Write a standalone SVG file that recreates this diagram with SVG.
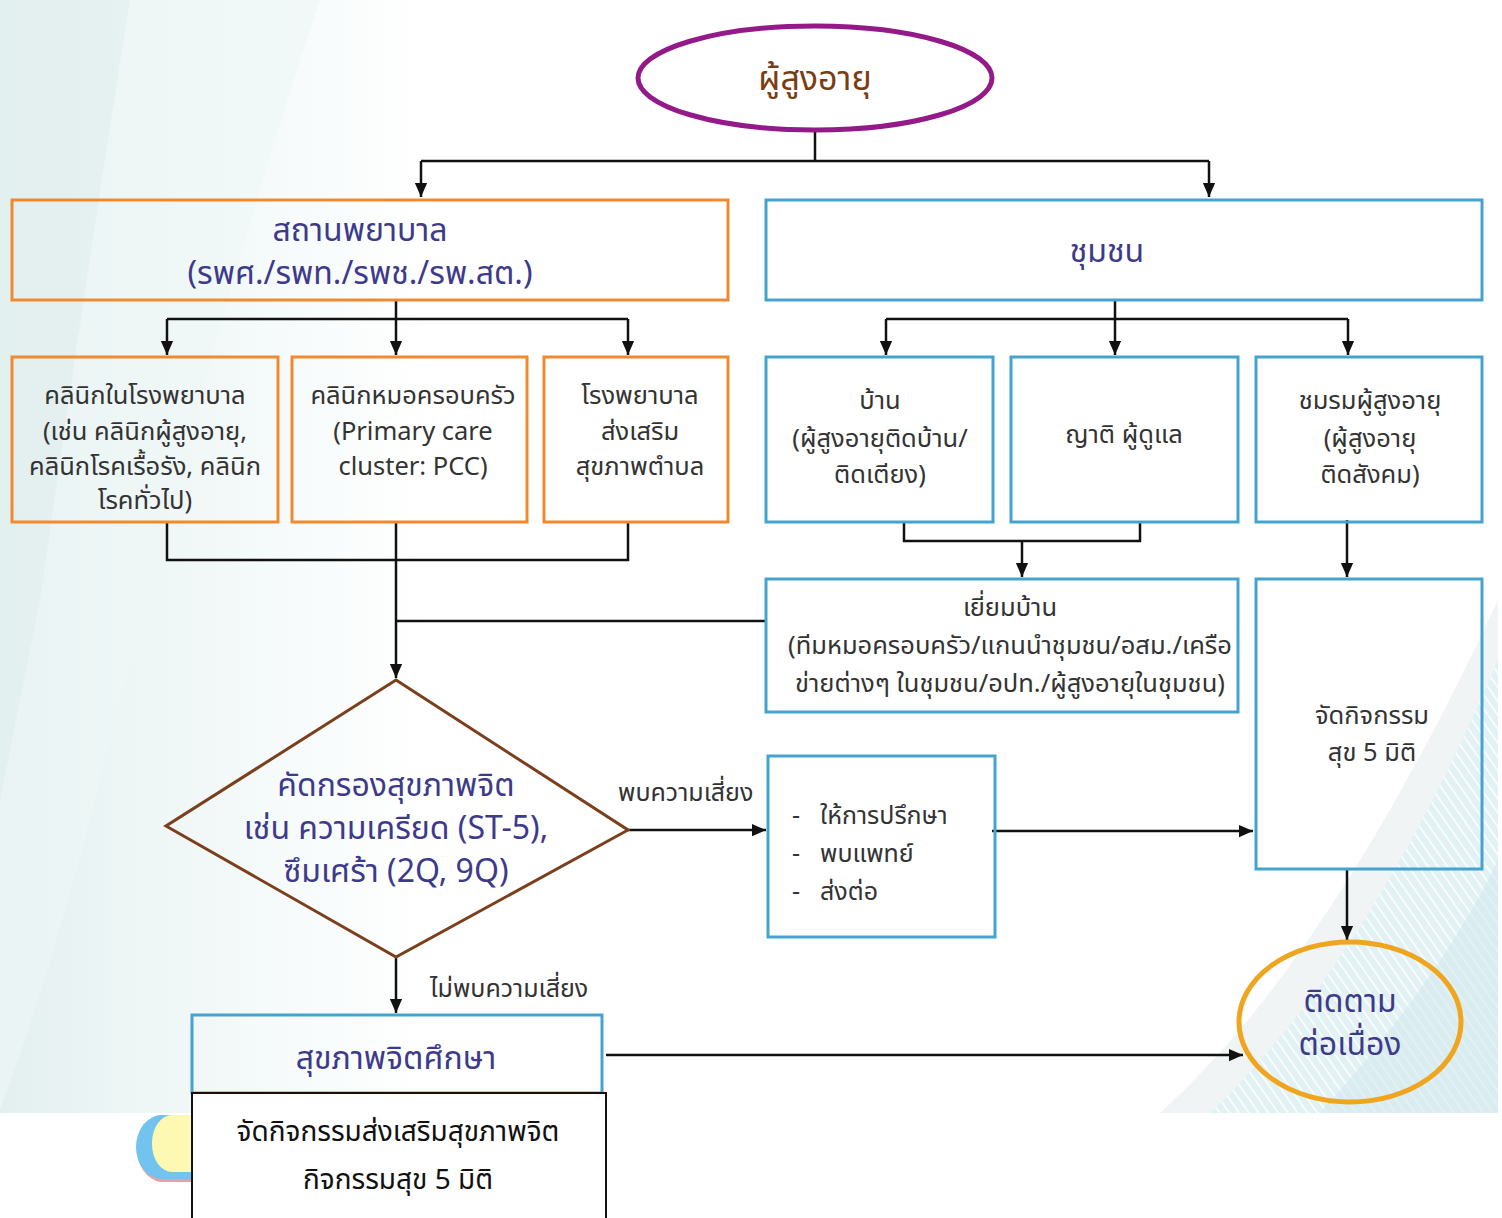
<svg xmlns="http://www.w3.org/2000/svg" width="1502" height="1218" viewBox="0 0 1502 1218">
<style>
.th{font-family:"Noto Sans Thai","Noto Sans","Liberation Sans",sans-serif;}
.t-main{fill:#3d3a8c;font-size:32px;text-anchor:middle;}
.t-grey{fill:#333333;font-size:25.5px;text-anchor:middle;}
.t-lbl{fill:#333333;font-size:25px;}
.box-o{fill:none;stroke:#f08a30;stroke-width:3;}
.box-b{fill:none;stroke:#45a3d0;stroke-width:3;}
.conn{fill:none;stroke:#111111;stroke-width:2.5;}
</style>
<defs>
<marker id="ah" markerUnits="userSpaceOnUse" markerWidth="14" markerHeight="18" refX="16" refY="7" viewBox="0 0 16 14" orient="auto">
<path d="M0,0 L16,7 L0,14 Z" fill="#111111"/>
</marker>
<linearGradient id="bgL" x1="0" y1="0" x2="1" y2="0">
<stop offset="0" stop-color="#e3efef"/>
<stop offset="0.08" stop-color="#edf5f5"/>
<stop offset="0.2" stop-color="#f7fbfb"/>
<stop offset="0.28" stop-color="#ffffff"/>
</linearGradient>
<pattern id="stripes" width="8" height="8" patternUnits="userSpaceOnUse" patternTransform="rotate(-35)">
<rect width="8" height="8" fill="#e2f1f3"/>
<line x1="0" y1="0" x2="0" y2="8" stroke="#ffffff" stroke-width="3"/>
</pattern>
</defs>
<g id="background">
<rect x="0" y="0" width="1498" height="1113" fill="url(#bgL)"/>
<path d="M0,0 L320,0 Q220,300 120,700 Q60,950 0,1110 Z" fill="#eef6f6" opacity="0.6"/>
<path d="M0,0 L130,0 Q90,250 40,600 L0,800 Z" fill="#dcecec" opacity="0.45"/>
<path d="M1160,1113 Q1330,960 1498,600 L1498,1113 Z" fill="#f1f4f4"/>
<path d="M1210,1113 Q1370,960 1498,660 L1498,1113 Z" fill="url(#stripes)"/>
<path d="M1320,1113 Q1440,980 1498,860 L1498,1113 Z" fill="#d4eaee" opacity="0.6"/>
</g>
<g id="deco">
<path d="M192,1115 L160,1115 A 28 34 0 0 0 160,1182 L192,1182 Z" fill="#e3a3a3"/>
<path d="M192,1115 L162,1115 A 26 32 0 0 0 162,1179 L192,1179 Z" fill="#72c4ee"/>
<path d="M192,1115 L172,1115 A 19 27 0 0 0 172,1172 L192,1172 Z" fill="#fdf8b2"/>
</g>
<g id="connectors">
<path class="conn" d="M815,130 L815,161 M421,161 L1209,161"/>
<path class="conn" marker-end="url(#ah)" d="M421,161 L421,197"/>
<path class="conn" marker-end="url(#ah)" d="M1209,161 L1209,197"/>
<path class="conn" d="M396,300 L396,319 M167,319 L628,319"/>
<path class="conn" marker-end="url(#ah)" d="M167,319 L167,355"/>
<path class="conn" marker-end="url(#ah)" d="M396,319 L396,355"/>
<path class="conn" marker-end="url(#ah)" d="M628,319 L628,355"/>
<path class="conn" d="M1115,300 L1115,319 M886,319 L1348,319"/>
<path class="conn" marker-end="url(#ah)" d="M886,319 L886,355"/>
<path class="conn" marker-end="url(#ah)" d="M1115,319 L1115,355"/>
<path class="conn" marker-end="url(#ah)" d="M1348,319 L1348,355"/>
<path class="conn" d="M904,522 L904,541 L1140,541 L1140,522"/>
<path class="conn" marker-end="url(#ah)" d="M1022,541 L1022,577"/>
<path class="conn" marker-end="url(#ah)" d="M1347,520 L1347,577"/>
<path class="conn" d="M167,522 L167,560 L628,560 L628,522"/>
<path class="conn" marker-end="url(#ah)" d="M396,522 L396,678"/>
<path class="conn" d="M396,621 L766,621"/>
<path class="conn" marker-end="url(#ah)" d="M628,830 L766,830"/>
<path class="conn" marker-end="url(#ah)" d="M992,831 L1253,831"/>
<path class="conn" marker-end="url(#ah)" d="M1347,869 L1347,940"/>
<path class="conn" marker-end="url(#ah)" d="M396,957 L396,1013"/>
<path class="conn" marker-end="url(#ah)" d="M606,1055 L1243,1055"/>
</g>
<g id="n-elderly">
<ellipse cx="815" cy="78" rx="177" ry="52" fill="none" stroke="#931a88" stroke-width="5"/>
<text class="th" x="815" y="90" font-size="34" fill="#7a3d12" text-anchor="middle">ผู้สูงอายุ</text>
</g>
<g id="n-hospital">
<rect class="box-o" x="12" y="200" width="716" height="100"/>
<text class="th t-main" x="360" y="241">สถานพยาบาล</text>
<text class="th t-main" x="360" y="284">(รพศ./รพท./รพช./รพ.สต.)</text>
</g>
<g id="n-community">
<rect class="box-b" x="766" y="200" width="716" height="100"/>
<text class="th t-main" x="1107" y="262">ชุมชน</text>
</g>
<g id="n-clinic">
<rect class="box-o" x="12" y="357" width="266" height="165"/>
<text class="th t-grey" x="145" y="404">คลินิกในโรงพยาบาล</text>
<text class="th t-grey" x="145" y="440">(เช่น คลินิกผู้สูงอายุ,</text>
<text class="th t-grey" x="145" y="475">คลินิกโรคเรื้อรัง, คลินิก</text>
<text class="th t-grey" x="145" y="509">โรคทั่วไป)</text>
</g>
<g id="n-pcc">
<rect class="box-o" x="292" y="357" width="235" height="165"/>
<text class="th t-grey" x="413" y="404">คลินิกหมอครอบครัว</text>
<text class="th t-grey" x="413" y="440">(Primary care</text>
<text class="th t-grey" x="413" y="475">cluster: PCC)</text>
</g>
<g id="n-rpsth">
<rect class="box-o" x="544" y="357" width="184" height="165"/>
<text class="th t-grey" x="640" y="404">โรงพยาบาล</text>
<text class="th t-grey" x="640" y="440">ส่งเสริม</text>
<text class="th t-grey" x="640" y="475">สุขภาพตำบล</text>
</g>
<g id="n-home">
<rect class="box-b" x="766" y="357" width="227" height="165"/>
<text class="th t-grey" x="880" y="409">บ้าน</text>
<text class="th t-grey" x="880" y="447">(ผู้สูงอายุติดบ้าน/</text>
<text class="th t-grey" x="880" y="483">ติดเตียง)</text>
</g>
<g id="n-relative">
<rect class="box-b" x="1011" y="357" width="227" height="165"/>
<text class="th t-grey" x="1124" y="443">ญาติ ผู้ดูแล</text>
</g>
<g id="n-club">
<rect class="box-b" x="1256" y="357" width="226" height="165"/>
<text class="th t-grey" x="1370" y="409">ชมรมผู้สูงอายุ</text>
<text class="th t-grey" x="1370" y="447">(ผู้สูงอายุ</text>
<text class="th t-grey" x="1370" y="483">ติดสังคม)</text>
</g>
<g id="n-visit">
<rect class="box-b" x="766" y="579" width="472" height="133"/>
<text class="th t-grey" x="1010" y="616">เยี่ยมบ้าน</text>
<text class="th t-grey" x="1010" y="654">(ทีมหมอครอบครัว/แกนนำชุมชน/อสม./เครือ</text>
<text class="th t-grey" x="1010" y="692">ข่ายต่างๆ ในชุมชน/อปท./ผู้สูงอายุในชุมชน)</text>
</g>
<g id="n-activity">
<rect class="box-b" x="1256" y="579" width="226" height="290"/>
<text class="th t-grey" x="1372" y="724">จัดกิจกรรม</text>
<text class="th t-grey" x="1372" y="761">สุข 5 มิติ</text>
</g>
<g id="n-screen">
<polygon points="396,680 628,830 396,957 166,826" fill="none" stroke="#7b3f1c" stroke-width="3"/>
<text class="th t-main" x="396" y="796" font-size="33">คัดกรองสุขภาพจิต</text>
<text class="th t-main" x="396" y="839" font-size="33">เช่น ความเครียด (ST-5),</text>
<text class="th t-main" x="396" y="882" font-size="33">ซึมเศร้า (2Q, 9Q)</text>
</g>
<g id="n-counsel">
<rect class="box-b" x="768" y="756" width="227" height="181"/>
<text class="th t-lbl" x="792" y="824">-</text>
<text class="th t-lbl" x="820" y="824" font-size="27">ให้การปรึกษา</text>
<text class="th t-lbl" x="792" y="862">-</text>
<text class="th t-lbl" x="820" y="862" font-size="27">พบแพทย์</text>
<text class="th t-lbl" x="792" y="900">-</text>
<text class="th t-lbl" x="820" y="900" font-size="27">ส่งต่อ</text>
</g>
<g id="n-follow">
<ellipse cx="1350" cy="1022" rx="111" ry="80" fill="none" stroke="#f0a51e" stroke-width="5"/>
<text class="th t-main" x="1350" y="1012" font-size="33">ติดตาม</text>
<text class="th t-main" x="1350" y="1055" font-size="33">ต่อเนื่อง</text>
</g>
<g id="n-psyed">
<rect class="box-b" x="192" y="1015" width="410" height="78"/>
<text class="th t-main" x="396" y="1069">สุขภาพจิตศึกษา</text>
</g>
<g id="n-promote">
<rect x="192" y="1093" width="414" height="140" fill="#ffffff" stroke="#111111" stroke-width="2"/>
<text class="th" x="398" y="1141" font-size="28" fill="#111111" text-anchor="middle">จัดกิจกรรมส่งเสริมสุขภาพจิต</text>
<text class="th" x="398" y="1189" font-size="28" fill="#111111" text-anchor="middle">กิจกรรมสุข 5 มิติ</text>
</g>
<g id="labels">
<text class="th t-lbl" x="618" y="801">พบความเสี่ยง</text>
<text class="th t-lbl" x="430" y="997">ไม่พบความเสี่ยง</text>
</g>
</svg>
